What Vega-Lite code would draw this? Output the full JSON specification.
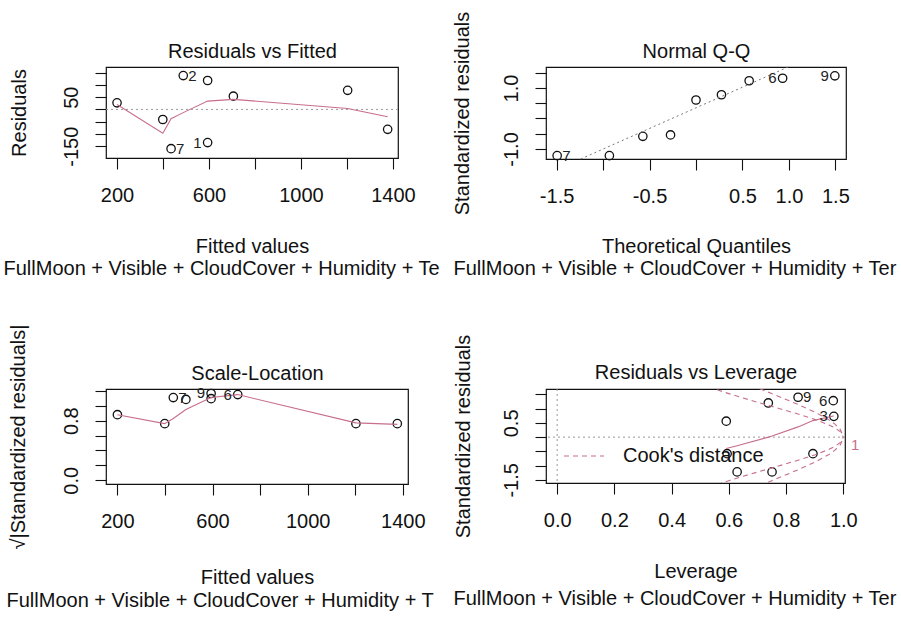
{
  "$schema": "https://vega.github.io/schema/vega-lite/v6.json",
  "background": "white",
  "padding": {"left": 2, "top": 10, "right": 0, "bottom": 0},
  "columns": 2,
  "spacing": {"row": 230, "column": 138},
  "bounds": "flush",
  "align": "each",
  "resolve": {"legend": {"strokeDash": "independent"}, "scale": {"strokeDash": "independent"}},
  "config": {
    "font": "Liberation Sans",
    "view": {"stroke": "#111111", "strokeWidth": 1.2},
    "axis": {"domain": false, "grid": false, "tickColor": "#111111", "tickSize": 11, "tickWidth": 1.1, "labelFont": "Liberation Sans", "labelFontSize": 20, "labelColor": "#111111", "titleFont": "Liberation Sans", "titleFontSize": 20, "titleFontWeight": "normal", "titleColor": "#111111", "labelOverlap": false, "labelFlush": false, "labelBound": false},
    "axisX": {"labelAngle": 0, "labelPadding": 16, "labelAlign": "center", "labelBaseline": "top"},
    "axisY": {"labelAngle": -90, "labelPadding": 18, "labelAlign": "center", "labelBaseline": "alphabetic", "titleAngle": -90, "titleBaseline": "alphabetic"}
  },
  "datasets": {
    "p1_points": [
      {"fitted": 200, "resid": 27}, {"fitted": 399, "resid": -41}, {"fitted": 435, "resid": -160},
      {"fitted": 488, "resid": 138}, {"fitted": 594, "resid": 118}, {"fitted": 594, "resid": -135},
      {"fitted": 706, "resid": 54}, {"fitted": 1203, "resid": 78}, {"fitted": 1377, "resid": -81}
    ],
    "p1_smooth": [
      {"fitted": 200, "resid": 20}, {"fitted": 399, "resid": -97}, {"fitted": 435, "resid": -38},
      {"fitted": 488, "resid": -13}, {"fitted": 594, "resid": 34}, {"fitted": 706, "resid": 41},
      {"fitted": 1203, "resid": 4}, {"fitted": 1377, "resid": -30}
    ],
    "p1_lab_right": [{"fitted": 435, "resid": -160, "label": "7"}, {"fitted": 488, "resid": 138, "label": "2"}],
    "p1_lab_left": [{"fitted": 594, "resid": -135, "label": "1"}],
    "p2_points": [
      {"q": -1.494, "sr": -1.22}, {"q": -0.932, "sr": -1.22}, {"q": -0.572, "sr": -0.585},
      {"q": -0.274, "sr": -0.54}, {"q": 0, "sr": 0.607}, {"q": 0.274, "sr": 0.78},
      {"q": 0.572, "sr": 1.24}, {"q": 0.932, "sr": 1.32}, {"q": 1.494, "sr": 1.4}
    ],
    "p2_line": [{"q": -1.241, "sr": -1.33}, {"q": 0.99, "sr": 1.69}],
    "p2_lab_right": [{"q": -1.494, "sr": -1.22, "label": "7"}],
    "p2_lab_left": [{"q": 0.932, "sr": 1.32, "label": "6"}, {"q": 1.494, "sr": 1.4, "label": "9"}],
    "p3_points": [
      {"fitted": 200, "v": 0.88}, {"fitted": 399, "v": 0.76}, {"fitted": 435, "v": 1.11},
      {"fitted": 488, "v": 1.085}, {"fitted": 594, "v": 1.165}, {"fitted": 594, "v": 1.095},
      {"fitted": 706, "v": 1.15}, {"fitted": 1203, "v": 0.76}, {"fitted": 1377, "v": 0.76}
    ],
    "p3_smooth": [
      {"fitted": 200, "v": 0.88}, {"fitted": 399, "v": 0.76}, {"fitted": 435, "v": 0.83},
      {"fitted": 488, "v": 0.95}, {"fitted": 594, "v": 1.11}, {"fitted": 706, "v": 1.15},
      {"fitted": 1203, "v": 0.77}, {"fitted": 1377, "v": 0.75}
    ],
    "p3_lab_right": [{"fitted": 435, "v": 1.11, "label": "7"}],
    "p3_lab_left": [{"fitted": 594, "v": 1.165, "label": "9"}, {"fitted": 706, "v": 1.15, "label": "6"}],
    "p4_points": [
      {"h": 0.591, "sr": 0.56}, {"h": 0.594, "sr": -0.58}, {"h": 0.629, "sr": -1.22},
      {"h": 0.738, "sr": 1.2}, {"h": 0.751, "sr": -1.22}, {"h": 0.842, "sr": 1.4},
      {"h": 0.894, "sr": -0.58}, {"h": 0.965, "sr": 1.28}, {"h": 0.967, "sr": 0.73}
    ],
    "p4_smooth": [
      {"h": 0.591, "sr": -0.4}, {"h": 0.594, "sr": -0.39}, {"h": 0.629, "sr": -0.3},
      {"h": 0.738, "sr": 0.0}, {"h": 0.751, "sr": 0.04}, {"h": 0.842, "sr": 0.36},
      {"h": 0.894, "sr": 0.58}, {"h": 0.965, "sr": 0.74}, {"h": 0.967, "sr": 0.74}
    ],
    "p4_cook": [
      {"h": 0.5, "sr": 1.871, "curve": "u05", "kind": "Cook's distance"},
      {"h": 0.55, "sr": 1.692, "curve": "u05", "kind": "Cook's distance"},
      {"h": 0.6, "sr": 1.528, "curve": "u05", "kind": "Cook's distance"},
      {"h": 0.65, "sr": 1.373, "curve": "u05", "kind": "Cook's distance"},
      {"h": 0.7, "sr": 1.225, "curve": "u05", "kind": "Cook's distance"},
      {"h": 0.75, "sr": 1.08, "curve": "u05", "kind": "Cook's distance"},
      {"h": 0.8, "sr": 0.935, "curve": "u05", "kind": "Cook's distance"},
      {"h": 0.85, "sr": 0.786, "curve": "u05", "kind": "Cook's distance"},
      {"h": 0.9, "sr": 0.624, "curve": "u05", "kind": "Cook's distance"},
      {"h": 0.95, "sr": 0.429, "curve": "u05", "kind": "Cook's distance"},
      {"h": 0.97, "sr": 0.329, "curve": "u05", "kind": "Cook's distance"},
      {"h": 0.99, "sr": 0.188, "curve": "u05", "kind": "Cook's distance"},
      {"h": 1.0, "sr": 0, "curve": "u05", "kind": "Cook's distance"},
      {"h": 0.5, "sr": -1.871, "curve": "l05", "kind": "Cook's distance"},
      {"h": 0.55, "sr": -1.692, "curve": "l05", "kind": "Cook's distance"},
      {"h": 0.6, "sr": -1.528, "curve": "l05", "kind": "Cook's distance"},
      {"h": 0.65, "sr": -1.373, "curve": "l05", "kind": "Cook's distance"},
      {"h": 0.7, "sr": -1.225, "curve": "l05", "kind": "Cook's distance"},
      {"h": 0.75, "sr": -1.08, "curve": "l05", "kind": "Cook's distance"},
      {"h": 0.8, "sr": -0.935, "curve": "l05", "kind": "Cook's distance"},
      {"h": 0.85, "sr": -0.786, "curve": "l05", "kind": "Cook's distance"},
      {"h": 0.9, "sr": -0.624, "curve": "l05", "kind": "Cook's distance"},
      {"h": 0.95, "sr": -0.429, "curve": "l05", "kind": "Cook's distance"},
      {"h": 0.97, "sr": -0.329, "curve": "l05", "kind": "Cook's distance"},
      {"h": 0.99, "sr": -0.188, "curve": "l05", "kind": "Cook's distance"},
      {"h": 1.0, "sr": 0, "curve": "l05", "kind": "Cook's distance"},
      {"h": 0.65, "sr": 1.941, "curve": "u1", "kind": "Cook's distance"},
      {"h": 0.7, "sr": 1.732, "curve": "u1", "kind": "Cook's distance"},
      {"h": 0.75, "sr": 1.528, "curve": "u1", "kind": "Cook's distance"},
      {"h": 0.8, "sr": 1.323, "curve": "u1", "kind": "Cook's distance"},
      {"h": 0.85, "sr": 1.111, "curve": "u1", "kind": "Cook's distance"},
      {"h": 0.9, "sr": 0.882, "curve": "u1", "kind": "Cook's distance"},
      {"h": 0.95, "sr": 0.607, "curve": "u1", "kind": "Cook's distance"},
      {"h": 0.97, "sr": 0.465, "curve": "u1", "kind": "Cook's distance"},
      {"h": 0.99, "sr": 0.266, "curve": "u1", "kind": "Cook's distance"},
      {"h": 1.0, "sr": 0, "curve": "u1", "kind": "Cook's distance"},
      {"h": 0.65, "sr": -1.941, "curve": "l1", "kind": "Cook's distance"},
      {"h": 0.7, "sr": -1.732, "curve": "l1", "kind": "Cook's distance"},
      {"h": 0.75, "sr": -1.528, "curve": "l1", "kind": "Cook's distance"},
      {"h": 0.8, "sr": -1.323, "curve": "l1", "kind": "Cook's distance"},
      {"h": 0.85, "sr": -1.111, "curve": "l1", "kind": "Cook's distance"},
      {"h": 0.9, "sr": -0.882, "curve": "l1", "kind": "Cook's distance"},
      {"h": 0.95, "sr": -0.607, "curve": "l1", "kind": "Cook's distance"},
      {"h": 0.97, "sr": -0.465, "curve": "l1", "kind": "Cook's distance"},
      {"h": 0.99, "sr": -0.266, "curve": "l1", "kind": "Cook's distance"},
      {"h": 1.0, "sr": 0, "curve": "l1", "kind": "Cook's distance"}
    ],
    "p4_lab_right": [{"h": 0.842, "sr": 1.4, "label": "9"}],
    "p4_lab_left": [{"h": 0.965, "sr": 1.28, "label": "6"}, {"h": 0.967, "sr": 0.73, "label": "3"}],
    "p4_level": [{"h": 1.006, "sr": -0.266, "label": "1"}]
  },
  "concat": [
    {
      "width": 292, "height": 91,
      "resolve": {"axis": {"x": "independent", "y": "independent"}},
      "layer": [
        {
          "data": {"name": "p1_points"},
          "mark": {"type": "point", "shape": "circle", "filled": false, "size": 70, "stroke": "#111111", "strokeWidth": 1.3, "opacity": 1},
          "encoding": {
            "x": {"field": "fitted", "type": "quantitative", "scale": {"domain": [152, 1422], "nice": false, "zero": false},
                  "axis": {"orient": "bottom", "title": "Fitted values", "values": [200, 400, 600, 800, 1000, 1200, 1400], "labelExpr": "datum.value == 200 || datum.value == 600 || datum.value == 1000 || datum.value == 1400 ? '' + datum.value : ''", "titleY": 94, "titleBaseline": "alphabetic"}},
            "y": {"field": "resid", "type": "quantitative", "scale": {"domain": [-198, 173], "nice": false, "zero": false},
                  "axis": {"orient": "left", "title": "Residuals", "values": [-150, -100, -50, 0, 50, 100, 150], "labelExpr": "datum.value == 50 ? '50' : datum.value == -150 ? '-150' : ''", "titleX": -81}}
          }
        },
        {
          "data": {"values": [{"resid": 0}]},
          "mark": {"type": "rule", "color": "#9a9a9a", "strokeDash": [2, 3], "strokeWidth": 1},
          "encoding": {"y": {"field": "resid", "type": "quantitative", "scale": {"domain": [-198, 173], "nice": false, "zero": false}, "axis": null}}
        },
        {
          "data": {"name": "p1_smooth"},
          "mark": {"type": "line", "color": "#C86E8A", "strokeWidth": 1.1},
          "encoding": {
            "x": {"field": "fitted", "type": "quantitative", "scale": {"domain": [152, 1422], "nice": false, "zero": false},
                  "axis": {"orient": "bottom", "title": "FullMoon + Visible + CloudCover + Humidity + Te", "ticks": false, "labels": false, "domain": false, "titleX": -103, "titleY": 116, "titleAlign": "left", "titleBaseline": "alphabetic"}},
            "y": {"field": "resid", "type": "quantitative", "scale": {"domain": [-198, 173], "nice": false, "zero": false}, "axis": null}
          }
        },
        {
          "data": {"name": "p1_lab_right"},
          "mark": {"type": "text", "align": "left", "baseline": "middle", "dx": 5, "fontSize": 15, "color": "#222222"},
          "encoding": {
            "x": {"field": "fitted", "type": "quantitative", "scale": {"domain": [152, 1422], "nice": false, "zero": false},
                  "axis": {"orient": "top", "title": "Residuals vs Fitted", "ticks": false, "labels": false, "domain": false, "titleY": -10, "titleBaseline": "alphabetic"}},
            "y": {"field": "resid", "type": "quantitative", "scale": {"domain": [-198, 173], "nice": false, "zero": false}, "axis": null},
            "text": {"field": "label"}
          }
        },
        {
          "data": {"name": "p1_lab_left"},
          "mark": {"type": "text", "align": "right", "baseline": "middle", "dx": -6, "fontSize": 15, "color": "#222222"},
          "encoding": {
            "x": {"field": "fitted", "type": "quantitative", "scale": {"domain": [152, 1422], "nice": false, "zero": false}, "axis": null},
            "y": {"field": "resid", "type": "quantitative", "scale": {"domain": [-198, 173], "nice": false, "zero": false}, "axis": null},
            "text": {"field": "label"}
          }
        }
      ]
    },
    {
      "width": 300, "height": 92,
      "resolve": {"axis": {"x": "independent", "y": "independent"}},
      "layer": [
        {
          "data": {"name": "p2_points"},
          "mark": {"type": "point", "shape": "circle", "filled": false, "size": 70, "stroke": "#111111", "strokeWidth": 1.3, "opacity": 1},
          "encoding": {
            "x": {"field": "q", "type": "quantitative", "scale": {"domain": [-1.614, 1.614], "nice": false, "zero": false},
                  "axis": {"orient": "bottom", "title": "Theoretical Quantiles", "values": [-1.5, -1, -0.5, 0, 0.5, 1, 1.5], "labelExpr": "datum.value == -1.5 ? '-1.5' : datum.value == -0.5 ? '-0.5' : datum.value == 0.5 ? '0.5' : datum.value == 1 ? '1.0' : datum.value == 1.5 ? '1.5' : ''", "titleY": 93, "titleBaseline": "alphabetic"}},
            "y": {"field": "sr", "type": "quantitative", "scale": {"domain": [-1.33, 1.69], "nice": false, "zero": false},
                  "axis": {"orient": "left", "title": "Standardized residuals", "values": [-1, -0.5, 0, 0.5, 1, 1.5], "labelExpr": "datum.value == 1 ? '1.0' : datum.value == -1 ? '-1.0' : ''", "titleX": -78}}
          }
        },
        {
          "data": {"name": "p2_line"},
          "mark": {"type": "line", "color": "#777777", "strokeDash": [2, 3], "strokeWidth": 1},
          "encoding": {
            "x": {"field": "q", "type": "quantitative", "scale": {"domain": [-1.614, 1.614], "nice": false, "zero": false},
                  "axis": {"orient": "bottom", "title": "FullMoon + Visible + CloudCover + Humidity + Ter", "ticks": false, "labels": false, "domain": false, "titleX": -93, "titleY": 115, "titleAlign": "left", "titleBaseline": "alphabetic"}},
            "y": {"field": "sr", "type": "quantitative", "scale": {"domain": [-1.33, 1.69], "nice": false, "zero": false}, "axis": null}
          }
        },
        {
          "data": {"name": "p2_lab_right"},
          "mark": {"type": "text", "align": "left", "baseline": "middle", "dx": 5, "fontSize": 15, "color": "#222222"},
          "encoding": {
            "x": {"field": "q", "type": "quantitative", "scale": {"domain": [-1.614, 1.614], "nice": false, "zero": false},
                  "axis": {"orient": "top", "title": "Normal Q-Q", "ticks": false, "labels": false, "domain": false, "titleY": -10, "titleBaseline": "alphabetic"}},
            "y": {"field": "sr", "type": "quantitative", "scale": {"domain": [-1.33, 1.69], "nice": false, "zero": false}, "axis": null},
            "text": {"field": "label"}
          }
        },
        {
          "data": {"name": "p2_lab_left"},
          "mark": {"type": "text", "align": "right", "baseline": "middle", "dx": -6, "fontSize": 15, "color": "#222222"},
          "encoding": {
            "x": {"field": "q", "type": "quantitative", "scale": {"domain": [-1.614, 1.614], "nice": false, "zero": false}, "axis": null},
            "y": {"field": "sr", "type": "quantitative", "scale": {"domain": [-1.33, 1.69], "nice": false, "zero": false}, "axis": null},
            "text": {"field": "label"}
          }
        }
      ]
    },
    {
      "width": 302, "height": 95,
      "resolve": {"axis": {"x": "independent", "y": "independent"}},
      "layer": [
        {
          "data": {"name": "p3_points"},
          "mark": {"type": "point", "shape": "circle", "filled": false, "size": 70, "stroke": "#111111", "strokeWidth": 1.3, "opacity": 1},
          "encoding": {
            "x": {"field": "fitted", "type": "quantitative", "scale": {"domain": [152, 1422], "nice": false, "zero": false},
                  "axis": {"orient": "bottom", "title": "Fitted values", "values": [200, 400, 600, 800, 1000, 1200, 1400], "labelExpr": "datum.value == 200 || datum.value == 600 || datum.value == 1000 || datum.value == 1400 ? '' + datum.value : ''", "titleY": 99, "titleBaseline": "alphabetic"}},
            "y": {"field": "v", "type": "quantitative", "scale": {"domain": [-0.05, 1.225], "nice": false, "zero": false},
                  "axis": {"orient": "left", "title": "√|Standardized residuals|", "values": [0, 0.2, 0.4, 0.6, 0.8, 1, 1.2], "labelExpr": "datum.value == 0 ? '0.0' : datum.value == 0.8 ? '0.8' : ''", "titleX": -82}}
          }
        },
        {
          "data": {"name": "p3_smooth"},
          "mark": {"type": "line", "color": "#C86E8A", "strokeWidth": 1.1},
          "encoding": {
            "x": {"field": "fitted", "type": "quantitative", "scale": {"domain": [152, 1422], "nice": false, "zero": false},
                  "axis": {"orient": "bottom", "title": "FullMoon + Visible + CloudCover + Humidity + T", "ticks": false, "labels": false, "domain": false, "titleX": -100, "titleY": 122, "titleAlign": "left", "titleBaseline": "alphabetic"}},
            "y": {"field": "v", "type": "quantitative", "scale": {"domain": [-0.05, 1.225], "nice": false, "zero": false}, "axis": null}
          }
        },
        {
          "data": {"name": "p3_lab_right"},
          "mark": {"type": "text", "align": "left", "baseline": "middle", "dx": 5, "fontSize": 15, "color": "#222222"},
          "encoding": {
            "x": {"field": "fitted", "type": "quantitative", "scale": {"domain": [152, 1422], "nice": false, "zero": false},
                  "axis": {"orient": "top", "title": "Scale-Location", "ticks": false, "labels": false, "domain": false, "titleY": -10, "titleBaseline": "alphabetic"}},
            "y": {"field": "v", "type": "quantitative", "scale": {"domain": [-0.05, 1.225], "nice": false, "zero": false}, "axis": null},
            "text": {"field": "label"}
          }
        },
        {
          "data": {"name": "p3_lab_left"},
          "mark": {"type": "text", "align": "right", "baseline": "middle", "dx": -6, "fontSize": 15, "color": "#222222"},
          "encoding": {
            "x": {"field": "fitted", "type": "quantitative", "scale": {"domain": [152, 1422], "nice": false, "zero": false}, "axis": null},
            "y": {"field": "v", "type": "quantitative", "scale": {"domain": [-0.05, 1.225], "nice": false, "zero": false}, "axis": null},
            "text": {"field": "label"}
          }
        }
      ]
    },
    {
      "width": 299, "height": 94,
      "resolve": {"axis": {"x": "independent", "y": "independent"}},
      "layer": [
        {
          "data": {"name": "p4_points"},
          "mark": {"type": "point", "shape": "circle", "filled": false, "size": 70, "stroke": "#111111", "strokeWidth": 1.3, "opacity": 1},
          "encoding": {
            "x": {"field": "h", "type": "quantitative", "scale": {"domain": [-0.039, 1.006], "nice": false, "zero": false},
                  "axis": {"orient": "bottom", "title": "Leverage", "values": [0, 0.2, 0.4, 0.6, 0.8, 1], "labelExpr": "format(datum.value, '.1f')", "titleY": 94, "titleBaseline": "alphabetic"}},
            "y": {"field": "sr", "type": "quantitative", "scale": {"domain": [-1.61, 1.69], "nice": false, "zero": false},
                  "axis": {"orient": "left", "title": "Standardized residuals", "values": [-1.5, -1, -0.5, 0, 0.5, 1, 1.5], "labelExpr": "datum.value == 0.5 ? '0.5' : datum.value == -1.5 ? '-1.5' : ''", "titleX": -77}}
          }
        },
        {
          "data": {"values": [{"sr": 0}]},
          "mark": {"type": "rule", "color": "#9a9a9a", "strokeDash": [2, 3], "strokeWidth": 1},
          "encoding": {"y": {"field": "sr", "type": "quantitative", "scale": {"domain": [-1.61, 1.69], "nice": false, "zero": false}, "axis": null}}
        },
        {
          "data": {"values": [{"h": 0}]},
          "mark": {"type": "rule", "color": "#9a9a9a", "strokeDash": [2, 3], "strokeWidth": 1},
          "encoding": {"x": {"field": "h", "type": "quantitative", "scale": {"domain": [-0.039, 1.006], "nice": false, "zero": false}, "axis": null}}
        },
        {
          "data": {"name": "p4_cook"},
          "mark": {"type": "line", "color": "#C86E8A", "strokeWidth": 1.1, "clip": true},
          "encoding": {
            "x": {"field": "h", "type": "quantitative", "scale": {"domain": [-0.039, 1.006], "nice": false, "zero": false}, "axis": null},
            "y": {"field": "sr", "type": "quantitative", "scale": {"domain": [-1.61, 1.69], "nice": false, "zero": false}, "axis": null},
            "detail": {"field": "curve", "type": "nominal"},
            "strokeDash": {"field": "kind", "type": "nominal", "scale": {"range": [[5, 4]]},
                           "legend": {"title": null, "orient": "none", "legendX": 17, "legendY": 46, "symbolType": "stroke", "symbolSize": 1600, "symbolStrokeWidth": 1.2, "symbolStrokeColor": "#C86E8A", "labelFont": "Liberation Sans", "labelFontSize": 20, "labelColor": "#111111", "labelOffset": 18, "labelLimit": 400, "padding": 0}}
          }
        },
        {
          "data": {"name": "p4_smooth"},
          "mark": {"type": "line", "color": "#C86E8A", "strokeWidth": 1.1},
          "encoding": {
            "x": {"field": "h", "type": "quantitative", "scale": {"domain": [-0.039, 1.006], "nice": false, "zero": false},
                  "axis": {"orient": "bottom", "title": "FullMoon + Visible + CloudCover + Humidity + Ter", "ticks": false, "labels": false, "domain": false, "titleX": -93, "titleY": 121, "titleAlign": "left", "titleBaseline": "alphabetic"}},
            "y": {"field": "sr", "type": "quantitative", "scale": {"domain": [-1.61, 1.69], "nice": false, "zero": false}, "axis": null}
          }
        },
        {
          "data": {"name": "p4_lab_right"},
          "mark": {"type": "text", "align": "left", "baseline": "middle", "dx": 5, "fontSize": 15, "color": "#222222"},
          "encoding": {
            "x": {"field": "h", "type": "quantitative", "scale": {"domain": [-0.039, 1.006], "nice": false, "zero": false},
                  "axis": {"orient": "top", "title": "Residuals vs Leverage", "ticks": false, "labels": false, "domain": false, "titleY": -11, "titleBaseline": "alphabetic"}},
            "y": {"field": "sr", "type": "quantitative", "scale": {"domain": [-1.61, 1.69], "nice": false, "zero": false}, "axis": null},
            "text": {"field": "label"}
          }
        },
        {
          "data": {"name": "p4_lab_left"},
          "mark": {"type": "text", "align": "right", "baseline": "middle", "dx": -6, "fontSize": 15, "color": "#222222"},
          "encoding": {
            "x": {"field": "h", "type": "quantitative", "scale": {"domain": [-0.039, 1.006], "nice": false, "zero": false}, "axis": null},
            "y": {"field": "sr", "type": "quantitative", "scale": {"domain": [-1.61, 1.69], "nice": false, "zero": false}, "axis": null},
            "text": {"field": "label"}
          }
        },
        {
          "data": {"name": "p4_level"},
          "mark": {"type": "text", "align": "left", "baseline": "middle", "dx": 6, "fontSize": 15, "color": "#C86E8A"},
          "encoding": {
            "x": {"field": "h", "type": "quantitative", "scale": {"domain": [-0.039, 1.006], "nice": false, "zero": false}, "axis": null},
            "y": {"field": "sr", "type": "quantitative", "scale": {"domain": [-1.61, 1.69], "nice": false, "zero": false}, "axis": null},
            "text": {"field": "label"}
          }
        }
      ]
    }
  ]
}
